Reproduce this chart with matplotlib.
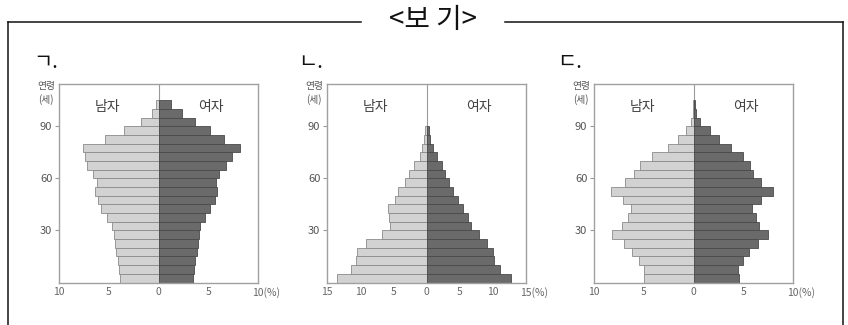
import matplotlib
matplotlib.use("Agg")
import matplotlib.pyplot as plt
from matplotlib.lines import Line2D
import matplotlib.transforms as mtransforms
import numpy as np

plt.rcParams['font.family'] = ['Noto Sans CJK KR', 'DejaVu Sans']

# ---- data ----
title = "<보 기>"
panel_labels = ["ㄱ.", "ㄴ.", "ㄷ."]
sex_labels = ["남자", "여자"]
age_label = "연령\n(세)"
age_ticks = [30, 60, 90]

# age groups start (0-4, 5-9, ...)
male_1 = [3.85, 3.95, 4.15, 4.3, 4.45, 4.5, 4.7, 5.2, 5.8, 6.15, 6.4, 6.2, 6.6, 7.25, 7.4, 7.6, 5.4, 3.5, 1.8, 0.65, 0.25]
female_1 = [3.4, 3.55, 3.65, 3.8, 3.9, 4.0, 4.15, 4.65, 5.15, 5.65, 5.85, 5.75, 6.0, 6.75, 7.4, 8.2, 6.6, 5.1, 3.65, 2.3, 1.25]

male_2 = [13.5, 11.5, 10.6, 10.5, 9.2, 6.7, 5.6, 5.7, 5.8, 4.8, 4.3, 3.3, 2.7, 2.0, 1.1, 0.7, 0.35, 0.25]
female_2 = [12.7, 11.1, 10.1, 10.0, 9.1, 7.8, 6.6, 6.2, 5.4, 4.7, 3.9, 3.3, 2.8, 2.3, 1.6, 0.9, 0.45, 0.3]

male_3 = [4.97, 4.97, 5.5, 6.24, 7.0, 8.2, 7.18, 6.64, 6.3, 7.15, 8.36, 6.9, 6.05, 5.4, 4.23, 2.55, 1.54, 0.77, 0.3, 0.12, 0.04]
female_3 = [4.5, 4.43, 4.9, 5.57, 6.5, 7.45, 6.58, 6.24, 5.84, 6.78, 8.0, 6.78, 5.9, 5.67, 4.93, 3.76, 2.55, 1.64, 0.6, 0.2, 0.08]

xlims = [10, 15, 10]
xtick_vals = [[-10, -5, 0, 5, 10], [-15, -10, -5, 0, 5, 10, 15], [-10, -5, 0, 5, 10]]
xtick_labels = [["10", "5", "0", "5", "10(%)"],
                ["15", "10", "5", "0", "5", "10", "15(%)"],
                ["10", "5", "0", "5", "10(%)"]]

males = [male_1, male_2, male_3]
females = [female_1, female_2, female_3]

W, H = 848, 325
fig = plt.figure(figsize=(W / 100, H / 100), dpi=100)

def fx(px):
    return px / W

def fy(py):
    return 1 - py / H

# frame
lc = '#111111'
fig.add_artist(Line2D([fx(8), fx(361)], [fy(22), fy(22)], color=lc, lw=1.1, transform=fig.transFigure))
fig.add_artist(Line2D([fx(505), fx(843)], [fy(22), fy(22)], color=lc, lw=1.1, transform=fig.transFigure))
fig.add_artist(Line2D([fx(8), fx(8)], [fy(22), fy(326)], color=lc, lw=1.1, transform=fig.transFigure))
fig.add_artist(Line2D([fx(843), fx(843)], [fy(22), fy(326)], color=lc, lw=1.1, transform=fig.transFigure))
fig.text(fx(433), fy(20), title, ha='center', va='center', fontsize=20, color='#111111')

ax_left_px = [59.3, 327.3, 594.3]
label_x_px = [33, 298, 557]
ax_w = 199 / W
ax_b = fy(282.5)
ax_h = (282.5 - 84) / H

for i in range(3):
    ax = fig.add_axes([fx(ax_left_px[i]), ax_b, ax_w, ax_h])
    m = np.array(males[i])
    f = np.array(females[i])
    ages = np.arange(len(m)) * 5
    ax.barh(ages, -m, height=5, align='edge', color='#d2d2d2', edgecolor='#8a8a8a', linewidth=0.6, zorder=2)
    ax.barh(ages, f, height=5, align='edge', color='#6a6a6a', edgecolor='#4a4a4a', linewidth=0.6, zorder=2)
    xl = xlims[i]
    ax.set_xlim(-xl, xl)
    ax.set_ylim(0, 114.5)
    ax.axvline(0, color='#9a9a9a', lw=0.8, zorder=1)
    for s in ax.spines.values():
        s.set_color('#a0a0a0')
        s.set_linewidth(1.0)
    ax.set_yticks(age_ticks)
    ax.set_yticklabels([str(t) for t in age_ticks])
    ax.set_xticks(xtick_vals[i])
    ax.set_xticklabels(xtick_labels[i])
    ax.tick_params(axis='y', length=3, width=0.8, color='#9a9a9a', labelsize=8, labelcolor='#555555', pad=2)
    ax.tick_params(axis='x', length=0, labelsize=7.5, labelcolor='#666666', pad=3)
    last = ax.get_xticklabels()[-1]
    last.set_horizontalalignment('left')
    last.set_transform(last.get_transform() + mtransforms.ScaledTranslation(-6 / 100, 0, fig.dpi_scale_trans))
    ax.text(-xl * 0.52, 101, sex_labels[0], ha='center', va='center', fontsize=10, color='#444444')
    ax.text(xl * 0.52, 101, sex_labels[1], ha='center', va='center', fontsize=10, color='#444444')
    fig.text(fx(ax_left_px[i] - 13), fy(93), age_label, ha='center', va='center', fontsize=7,
             color='#555555', linespacing=1.3)
    fig.text(fx(label_x_px[i]), fy(68), panel_labels[i], ha='left', va='baseline', fontsize=15, color='#111111')

fig.savefig("out.png", dpi=100)
